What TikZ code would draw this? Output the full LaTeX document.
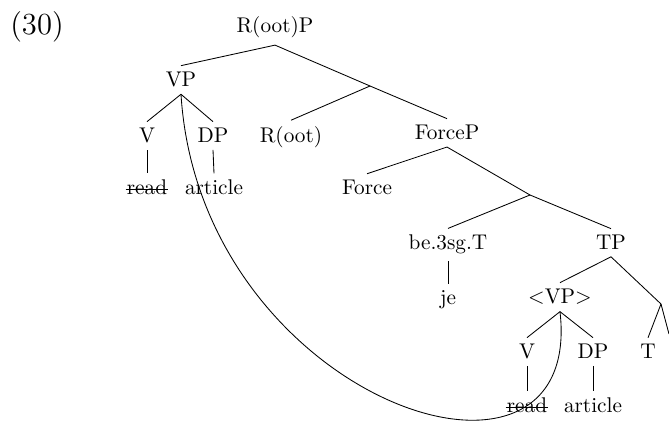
\documentclass[tikz,border=0pt]{standalone}
\newcommand\strk[1]{\setbox0\hbox{#1}\rlap{\kern-0.6pt\rule[0.55ex]{\dimexpr\wd0+1.2pt\relax}{0.4pt}}\box0}
\begin{document}
\begin{tikzpicture}[x=0.47pt,y=-0.47pt,
  lab/.style={anchor=base,inner sep=3pt},
  edge/.style={draw,line width=0.4pt}]
\useasboundingbox (0,0) rectangle (669,427);
% example number
\node[lab,font=\Large,inner sep=0pt] (num) at (37,35) {(30)};
% upper tree
\node[lab] (RP) at (275,33) {R(oot)P};
\node[lab] (VP) at (181,87) {VP};
\node[lab] (V1) at (147,143) {V};
\node[lab] (DP1) at (213,143) {DP};
\node[lab] (read1) at (147,195) {\strk{read}};
\node[lab] (art1) at (214,195) {article};
\coordinate (j1) at (370,86);
\node[lab] (Root) at (291,143) {R(oot)};
\node[lab] (ForceP) at (447,140) {ForceP};
\node[lab] (Force) at (367,195) {Force};
\coordinate (j2) at (530,195);
\node[lab] (be) at (448,250) {be.3sg.T};
\node[lab] (je) at (448,305) {je};
\node[lab] (TP) at (611,250) {TP};
\node[lab] (VP2) at (560,304) {$<$VP$>$};
\coordinate (j3) at (661,304);
\node[lab] (T) at (648,359) {T};
\coordinate (off) at (669,334);
\node[lab] (V2) at (527,359) {V};
\node[lab] (DP2) at (593,359) {DP};
\node[lab] (read2) at (527,413) {\strk{read}};
\node[lab] (art2) at (593,413) {article};
% branches
\draw[edge] (RP.south) -- (VP.north);
\draw[edge] (RP.south) -- (j1);
\draw[edge] (VP.south) -- (V1.north);
\draw[edge] (VP.south) -- (DP1.north);
\draw[edge] (V1.south) -- (read1.north);
\draw[edge] (DP1.south) -- (art1.north);
\draw[edge] (j1) -- (Root.north);
\draw[edge] (j1) -- (ForceP.north);
\draw[edge] (ForceP.south) -- (Force.north);
\draw[edge] (ForceP.south) -- (j2);
\draw[edge] (j2) -- (be.north);
\draw[edge] (j2) -- (TP.north);
\draw[edge] (be.south) -- (je.north);
\draw[edge] (TP.south) -- (VP2.north);
\draw[edge] (TP.south) -- (j3);
\draw[edge] (j3) -- (T.north);
\draw[edge] (j3) -- (off);
\draw[edge] (VP2.south) -- (V2.north);
\draw[edge] (VP2.south) -- (DP2.north);
\draw[edge] (V2.south) -- (read2.north);
\draw[edge] (DP2.south) -- (art2.north);
% movement curve
\draw[edge] (VP.south) .. controls +(19,306) and +(25,218) .. (VP2.south);
\end{tikzpicture}
\end{document}
